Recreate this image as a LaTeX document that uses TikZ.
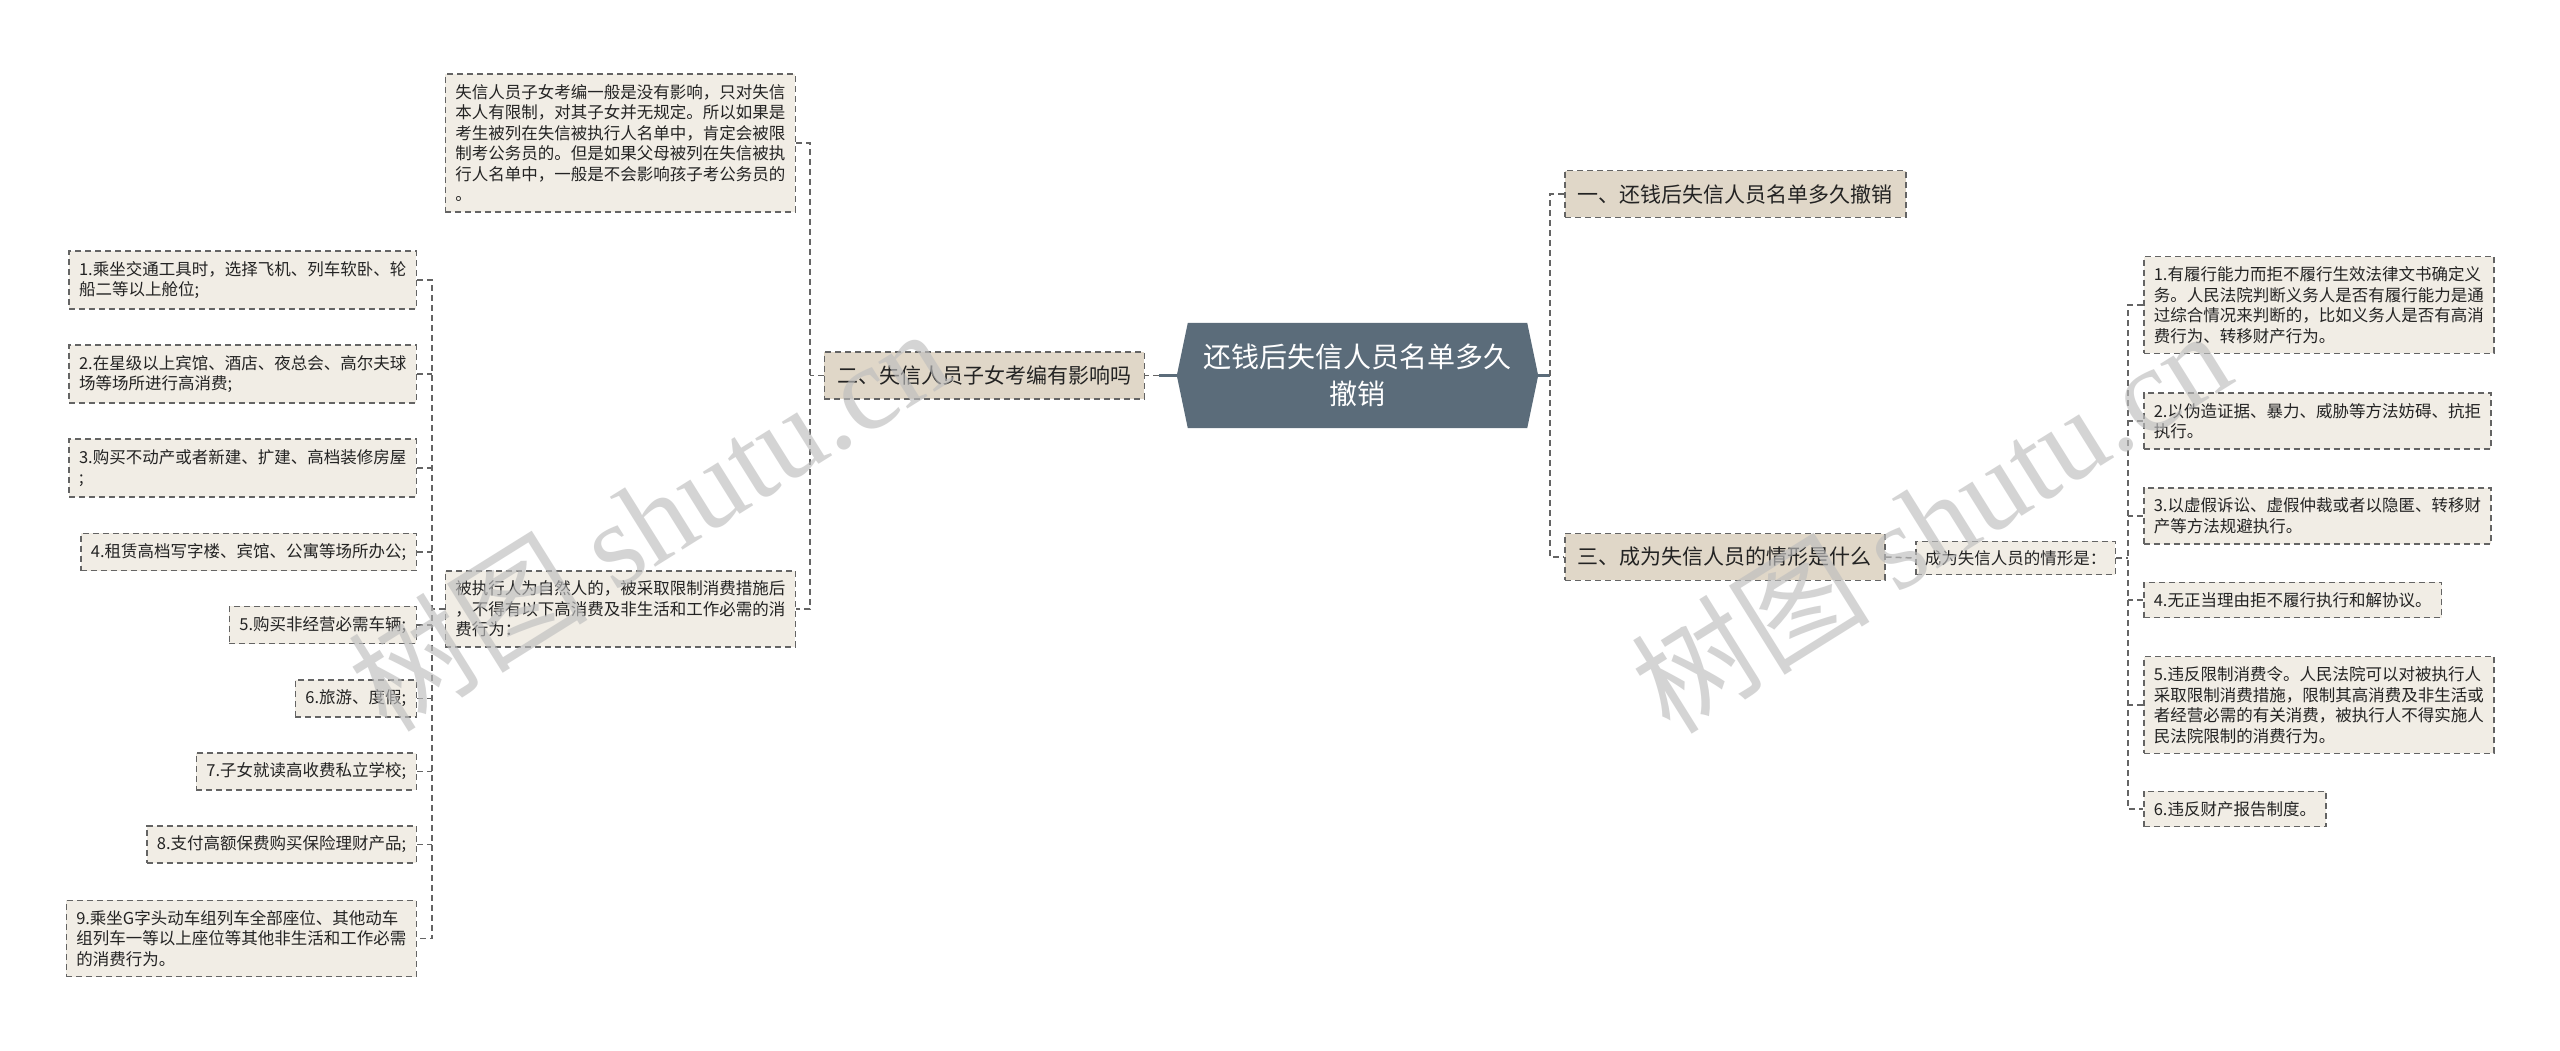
\documentclass[tikz,border=0pt]{standalone}
\usepackage{fontspec}
\setmainfont{Noto Sans CJK SC}
\newfontfamily\wmserif{Liberation Serif}
\usetikzlibrary{backgrounds}
\definecolor{lvlfill}{RGB}{224,215,200}
\definecolor{leaffill}{RGB}{241,237,229}
\definecolor{bordc}{RGB}{100,100,100}
\definecolor{txtc}{RGB}{35,35,35}
\definecolor{cfill}{RGB}{91,108,122}
\definecolor{wmc}{RGB}{190,190,190}
\begin{document}
\begin{tikzpicture}[x=1pt,y=-1pt,
  box/.style={draw=bordc, dash pattern=on 6pt off 4pt, line width=1.5pt, text=txtc, align=left},
  leaf/.style={box, fill=leaffill, inner xsep=10pt, inner ysep=10pt, font=\fontsize{16.5}{20.5}\selectfont},
  lvl/.style={box, fill=lvlfill, inner xsep=13pt, inner ysep=13.5pt, font=\fontsize{21}{26}\selectfont},
  conn/.style={draw=bordc, dash pattern=on 6pt off 4pt, line width=1.5pt},
  solidc/.style={draw=cfill, line width=3pt},
  wm/.style={rotate=32, text=wmc, opacity=0.65, font=\fontsize{120}{120}\selectfont}
]
\begin{scope}[on background layer]
\fill[white] (0,0) rectangle (2560,1050);
\end{scope}
\useasboundingbox (0,0) rectangle (2560,1050);

% center
\node[font=\fontsize{28}{37}\selectfont, text=white, align=center, minimum width=339pt, minimum height=105pt, inner sep=0pt] (c) at (1357.5,375.5) {还钱后失信人员名单多久\\撤销};
\begin{scope}[on background layer]
\fill[cfill] (c.north west) -- (c.north east) -- ([xshift=11pt]c.east) -- (c.south east) -- (c.south west) -- ([xshift=-11pt]c.west) -- cycle;
\end{scope}
\coordinate (cl) at ([xshift=-11pt]c.west);
\coordinate (cr) at ([xshift=11pt]c.east);

% level 1
\node[lvl, anchor=east] (b2) at (1145,375.5) {二、失信人员子女考编有影响吗};
\node[lvl, anchor=west] (b1) at (1564,194) {一、还钱后失信人员名单多久撤销};
\node[lvl, anchor=west] (b3) at (1564,557) {三、成为失信人员的情形是什么};

% level 2 left
\node[leaf, anchor=east] (t1) at (796,143) {失信人员子女考编一般是没有影响，只对失信\\本人有限制，对其子女并无规定。所以如果是\\考生被列在失信被执行人名单中，肯定会被限\\制考公务员的。但是如果父母被列在失信被执\\行人名单中，一般是不会影响孩子考公务员的\\。};
\node[leaf, anchor=east] (t2) at (796,609) {被执行人为自然人的，被采取限制消费措施后\\，不得有以下高消费及非生活和工作必需的消\\费行为：};

% level 3 left
\node[leaf, anchor=east] (l1) at (417,280) {1.乘坐交通工具时，选择飞机、列车软卧、轮\\船二等以上舱位;};
\node[leaf, anchor=east] (l2) at (417,374) {2.在星级以上宾馆、酒店、夜总会、高尔夫球\\场等场所进行高消费;};
\node[leaf, anchor=east] (l3) at (417,468) {3.购买不动产或者新建、扩建、高档装修房屋\\;};
\node[leaf, anchor=east] (l4) at (417,552) {4.租赁高档写字楼、宾馆、公寓等场所办公;};
\node[leaf, anchor=east] (l5) at (417,625) {5.购买非经营必需车辆;};
\node[leaf, anchor=east] (l6) at (417,698.5) {6.旅游、度假;};
\node[leaf, anchor=east] (l7) at (417,771.5) {7.子女就读高收费私立学校;};
\node[leaf, anchor=east] (l8) at (417,844.5) {8.支付高额保费购买保险理财产品;};
\node[leaf, anchor=east] (l9) at (417,938.5) {9.乘坐G字头动车组列车全部座位、其他动车\\组列车一等以上座位等其他非生活和工作必需\\的消费行为。};

% right level 2
\node[leaf, anchor=west, inner xsep=9pt, inner ysep=9pt] (cq) at (1915,558) {成为失信人员的情形是：};

% right level 3
\node[leaf, anchor=west] (r1) at (2143,305) {1.有履行能力而拒不履行生效法律文书确定义\\务。人民法院判断义务人是否有履行能力是通\\过综合情况来判断的，比如义务人是否有高消\\费行为、转移财产行为。};
\node[leaf, anchor=west] (r2) at (2143,421) {2.以伪造证据、暴力、威胁等方法妨碍、抗拒\\执行。};
\node[leaf, anchor=west] (r3) at (2143,516) {3.以虚假诉讼、虚假仲裁或者以隐匿、转移财\\产等方法规避执行。};
\node[leaf, anchor=west] (r4) at (2143,600) {4.无正当理由拒不履行执行和解协议。};
\node[leaf, anchor=west] (r5) at (2143,705) {5.违反限制消费令。人民法院可以对被执行人\\采取限制消费措施，限制其高消费及非生活或\\者经营必需的有关消费，被执行人不得实施人\\民法院限制的消费行为。};
\node[leaf, anchor=west] (r6) at (2143,809) {6.违反财产报告制度。};

% spine coordinates
\coordinate (rs) at (1550,375.5);
\coordinate (ls) at (810,375.5);
\coordinate (ls3) at (432,609);
\coordinate (rs3) at (2128,558);

% connectors center
\draw[solidc] (cl) -- ++(-18,0) coordinate (clj);
\draw[conn] (clj) -- (b2.east);
\draw[solidc] (cr) -- (rs);
\draw[conn] (b1.west) -- (b1.west -| rs) -- (b3.west -| rs) -- (b3.west);

% left level 2
\draw[conn] (t1.east) -- (t1.east -| ls) -- (t2.east -| ls) -- (t2.east);
\draw[conn] (b2.west) -- (ls);

% left level 3
\draw[conn] (l1.east) -- (l1.east -| ls3) -- (l9.east -| ls3) -- (l9.east);
\draw[conn] (t2.west) -- (ls3);
\foreach \n in {l2,l3,l4,l5,l6,l7,l8} {\draw[conn] (\n.east) -- (\n.east -| ls3);}

% right level 2/3
\draw[conn] (b3.east) -- (cq.west);
\draw[conn] (r1.west) -- (r1.west -| rs3) -- (r6.west -| rs3) -- (r6.west);
\draw[conn] (cq.east) -- (rs3);
\foreach \n in {r2,r3,r4,r5} {\draw[conn] (\n.west) -- (\n.west -| rs3);}

% watermarks
\node[wm] (wm1) at (648,518) {树图 {\wmserif shutu.cn}};
\node[wm] (wm2) at (1930,520) {树图 {\wmserif shutu.cn}};
\end{tikzpicture}
\end{document}
